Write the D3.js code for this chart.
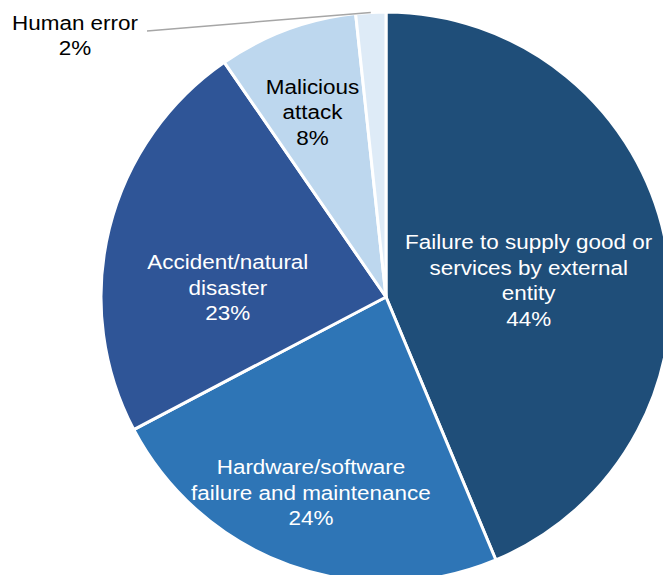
<!DOCTYPE html>
<html>
<head>
<meta charset="utf-8">
<script src="https://cdn.jsdelivr.net/npm/d3@7"></script>
<style>
  html, body { margin: 0; padding: 0; background: #fff; }
  svg { display: block; }
  text { font-family: "Liberation Sans", Arial, sans-serif; }
</style>
</head>
<body>
<svg id="chart" width="663" height="575"></svg>
<script>
// ---- data ----
const categories = [
  "Failure to supply good or services by external entity",
  "Hardware/software failure and maintenance",
  "Accident/natural disaster",
  "Malicious attack",
  "Human error"
];
const labelLines = [
  ["Failure to supply good or", "services by external", "entity"],
  ["Hardware/software", "failure and maintenance"],
  ["Accident/natural", "disaster"],
  ["Malicious", "attack"],
  ["Human error"]
];
const values = [43.7, 23.6, 23.1, 7.9, 1.7];

// ---- style / layout ----
const colors = ["#1F4E79", "#2E75B6", "#2F5597", "#BDD7EE", "#DEEBF7"];
const textColors = ["#fff", "#fff", "#fff", "#000", "#000"];
const W = 663, H = 575;
const cx = 386, cy = 297, R = 285;
const fontSize = 21, lineH = 25.5, stretch = 1.07;
// nudges of label block centres relative to the arc centroid (px)
const nudges = [[-11, 14], [-22, 48], [-6, 28], [-19, -38], null];

const svg = d3.select("#chart");
const g = svg.append("g").attr("transform", `translate(${cx},${cy})`);

const pie = d3.pie().sort(null).value(d => d)(values);
const arc = d3.arc().innerRadius(0).outerRadius(R);
const labelArc = d3.arc().innerRadius(R * 0.55).outerRadius(R * 0.55);

g.selectAll("path.slice")
  .data(pie)
  .join("path")
  .attr("class", "slice")
  .attr("d", arc)
  .attr("fill", (d, i) => colors[i])
  .attr("stroke", "#fff")
  .attr("stroke-width", 3)
  .attr("stroke-linejoin", "round");

function drawLabel(parent, lines, x, y, fill, anchorMiddle) {
  const n = lines.length;
  const t = parent.append("g").attr("transform", `translate(${x},${y}) scale(${stretch},1)`);
  lines.forEach((s, k) => {
    t.append("text")
      .attr("x", 0)
      .attr("y", (k - (n - 1) / 2) * lineH)
      .attr("dy", "0.35em")
      .attr("text-anchor", "middle")
      .attr("font-size", fontSize)
      .attr("fill", fill)
      .text(s);
  });
}

pie.forEach((d, i) => {
  const pct = Math.round(values[i]) + "%";
  const lines = labelLines[i].concat([pct]);
  if (nudges[i]) {
    const c = labelArc.centroid(d);
    drawLabel(g, lines, c[0] + nudges[i][0], c[1] + nudges[i][1], textColors[i]);
  } else {
    // outside label with leader line
    const mid = (d.startAngle + d.endAngle) / 2;
    const px = Math.sin(mid) * R, py = -Math.cos(mid) * R;
    const lx = 147 - cx, ly = 31 - cy;
    g.append("path")
      .attr("d", `M${px},${py}L${lx},${ly}`)
      .attr("stroke", "#A6A6A6")
      .attr("stroke-width", 1.5)
      .attr("fill", "none");
    drawLabel(g, lines, 75 - cx, 35 - cy, "#000");
  }
});
</script>
</body>
</html>
